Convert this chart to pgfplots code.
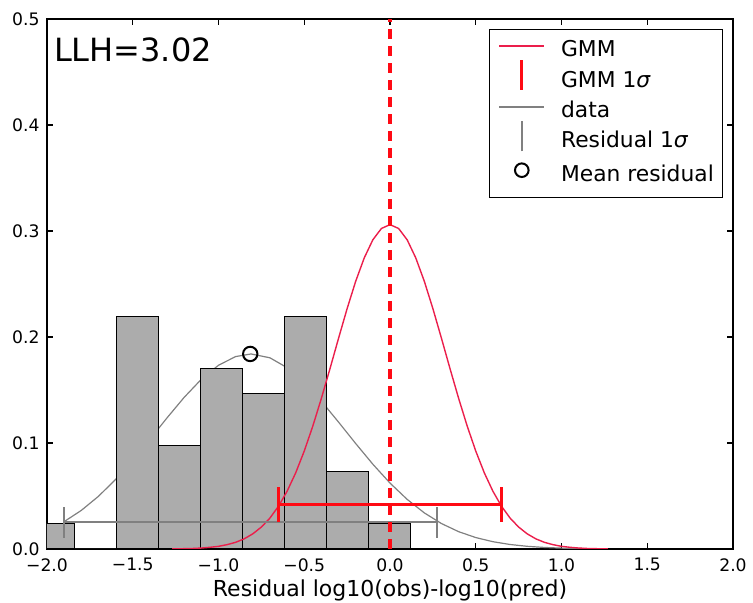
\documentclass[border=0pt]{standalone}
\usepackage{fontspec}
\setmainfont{DejaVu Sans}
\usepackage{pgfplots}
\pgfplotsset{compat=1.18}
\definecolor{gmmcurve}{RGB}{235,30,75}
\definecolor{gmmerr}{RGB}{255,10,20}
\definecolor{datagrey}{RGB}{128,128,128}
\definecolor{bargrey}{RGB}{172,172,172}
\begin{document}
\begin{tikzpicture}
\begin{axis}[
  at={(0pt,0pt)}, anchor=south west,
  scale only axis, width=343pt, height=265pt,
  xmin=-2, xmax=2, ymin=0, ymax=0.5,
  xtick={-2,-1.5,-1,-0.5,0,0.5,1,1.5,2},
  xticklabels={−2.0,−1.5,−1.0,−0.5,0.0,0.5,1.0,1.5,2.0},
  ytick={0,0.1,0.2,0.3,0.4,0.5},
  yticklabels={0.0,0.1,0.2,0.3,0.4,0.5},
  tick align=inside, major tick length=3pt,
  tick style={black, line width=0.6pt},
  axis line style={line width=0.7pt},
  ticklabel style={font=\fontsize{8.6}{10}\selectfont},
  xticklabel style={inner sep=0pt, yshift=-4.5pt, anchor=north},
  yticklabel style={inner sep=0pt, xshift=-3.5pt, anchor=east},
  xlabel={Residual log10(obs)-log10(pred)},
  xlabel style={font=\fontsize{11}{13}\selectfont, at={(axis description cs:0.5,0)}, anchor=base, yshift=-23.9pt, inner sep=0pt},
  legend style={at={(axis description cs:1,1)}, anchor=north east, xshift=-4.8pt, yshift=-5.1pt,
    draw=black, line width=0.6pt, font=\fontsize{10.9}{13}\selectfont,
    inner xsep=4.5pt, inner ysep=5.5pt, row sep=4.7pt, column sep=8pt,
    nodes={inner sep=0pt, text height=8pt, text depth=2.5pt}},
  legend cell align=left,
  legend image code/.code={\draw[#1] (0pt,2.5pt) -- (22.5pt,2.5pt);},
]
% data gaussian (behind bars)
\addplot[datagrey, line width=0.6pt, forget plot] coordinates {
(-1.9,0.02582)(-1.8,0.03641)(-1.7,0.04969)(-1.6,0.06559)(-1.5,0.08376)(-1.4,0.10350)
(-1.3,0.12373)(-1.2,0.14309)(-1.1,0.16012)(-1.0,0.17334)(-0.9,0.18155)(-0.81,0.18400)
(-0.7,0.18036)(-0.6,0.17107)(-0.5,0.15698)(-0.4,0.13936)(-0.3,0.11971)(-0.2,0.09948)
(-0.1,0.07998)(0.0,0.06220)(0.1,0.04682)(0.2,0.03408)(0.3,0.02401)(0.4,0.01636)
(0.5,0.01079)(0.6,0.00688)(0.7,0.00425)(0.8,0.00254)(0.9,0.00146)(1.0,0.00082)
(1.1,0.00044)(1.2,0.00023)};
% histogram
\addplot[ybar interval, fill=bargrey, draw=black, line width=0.5pt, forget plot] coordinates {
(-2.083,0.0244)(-1.838,0)(-1.593,0.2195)(-1.348,0.0976)(-1.103,0.1707)(-0.858,0.1463)
(-0.613,0.2195)(-0.368,0.0732)(-0.123,0.0244)(0.122,0)};
% GMM curve
\addplot[gmmcurve, line width=0.7pt, forget plot] coordinates {
(-1.27,0.0001)(-1.2,0.0003)(-1.15,0.0005)(-1.1,0.0009)(-1.05,0.0016)(-1.0,0.0025)
(-0.95,0.0041)(-0.9,0.0063)(-0.85,0.0096)(-0.8,0.0143)(-0.75,0.0207)(-0.7,0.0292)
(-0.65,0.0404)(-0.6,0.0545)(-0.55,0.0718)(-0.5,0.0924)(-0.45,0.1160)(-0.4,0.1422)
(-0.35,0.1701)(-0.3,0.1988)(-0.25,0.2268)(-0.2,0.2526)(-0.15,0.2747)(-0.1,0.2917)
(-0.05,0.3024)(0,0.3060)(0.05,0.3024)(0.1,0.2917)(0.15,0.2747)(0.2,0.2526)
(0.25,0.2268)(0.3,0.1988)(0.35,0.1701)(0.4,0.1422)(0.45,0.1160)(0.5,0.0924)
(0.55,0.0718)(0.6,0.0545)(0.65,0.0404)(0.7,0.0292)(0.75,0.0207)(0.8,0.0143)
(0.85,0.0096)(0.9,0.0063)(0.95,0.0041)(1.0,0.0025)(1.05,0.0016)(1.1,0.0009)
(1.15,0.0005)(1.2,0.0003)(1.27,0.0001)};
% residual 1 sigma
\addplot[datagrey, line width=1pt, unbounded coords=jump, forget plot] coordinates {
(-1.90,0.0252)(0.276,0.0252)(0,nan)(-1.90,0.0104)(-1.90,0.0400)(0,nan)(0.276,0.0104)(0.276,0.0400)};
% dashed line at zero
\addplot[gmmerr, line width=2pt, dash pattern=on 5pt off 3.5pt, forget plot] coordinates {(0,0)(0,0.5)};
% GMM 1 sigma
\addplot[gmmerr, line width=1.5pt, unbounded coords=jump, forget plot] coordinates {
(-0.651,0.0421)(0.651,0.0421)(0,nan)(-0.651,0.0258)(-0.651,0.0584)(0,nan)(0.651,0.0258)(0.651,0.0584)};
% mean residual
\addplot[only marks, mark=o, mark size=3.6pt, black, line width=1pt, forget plot] coordinates {(-0.815,0.184)};
\node[anchor=base west, font=\fontsize{16}{19}\selectfont, inner sep=0pt, xshift=3.3pt, yshift=-21.35pt] at (axis description cs:0,1) {LLH=3.02};
% legend
\addlegendimage{gmmcurve, line width=0.8pt}
\addlegendentry{GMM}
\addlegendimage{legend image code/.code={\draw[overlay, gmmerr, line width=1.5pt] (11.25pt,-4pt) -- (11.25pt,11pt);}}
\addlegendentry{GMM 1{\itshape σ}}
\addlegendimage{datagrey, line width=0.8pt}
\addlegendentry{data}
\addlegendimage{legend image code/.code={\draw[overlay, datagrey, line width=1pt] (11.25pt,-4.5pt) -- (11.25pt,10.5pt);}}
\addlegendentry{Residual 1{\itshape σ}}
\addlegendimage{legend image code/.code={\draw[black, line width=1pt] (11.25pt,3pt) circle (3.4pt);}}
\addlegendentry{Mean residual}
\end{axis}
\pgfresetboundingbox
\path[use as bounding box] (-23.5pt,-27pt) rectangle (353pt,274.5pt);
\end{tikzpicture}
\end{document}
